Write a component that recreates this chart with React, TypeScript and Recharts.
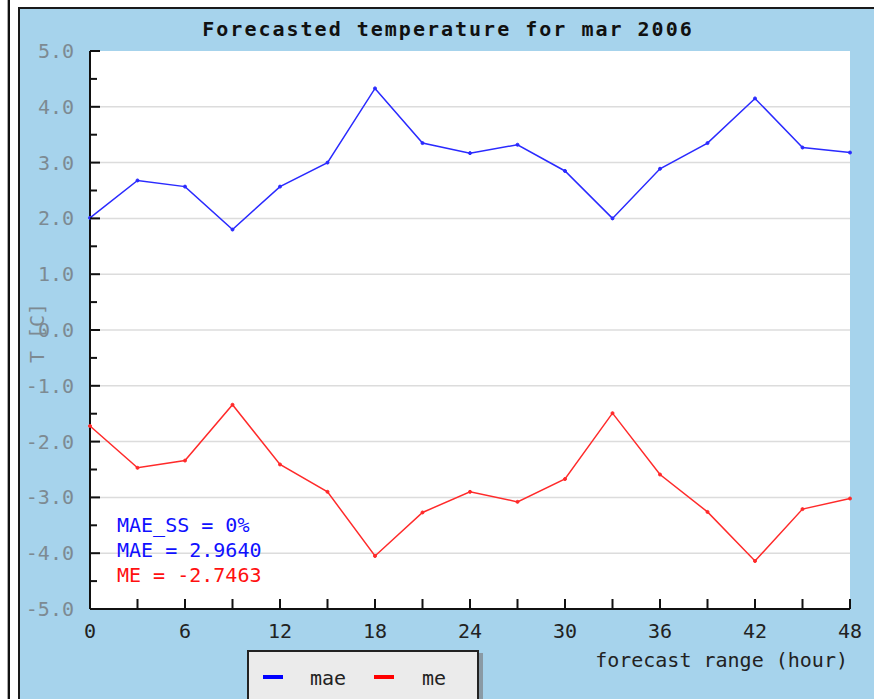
import { LineChart, Line, XAxis, YAxis, CartesianGrid } from 'recharts';

const hours = [0, 3, 6, 9, 12, 15, 18, 21, 24, 27, 30, 33, 36, 39, 42, 45, 48];
const maeValues = [2.01, 2.68, 2.57, 1.8, 2.57, 3.0, 4.33, 3.35, 3.17, 3.32, 2.85, 2.0, 2.89, 3.35, 4.15, 3.27, 3.18];
const meValues = [-1.72, -2.47, -2.34, -1.34, -2.41, -2.9, -4.05, -3.27, -2.9, -3.08, -2.67, -1.49, -2.59, -3.26, -4.14, -3.21, -3.02];

const yTicks = [-5, -4.5, -4, -3.5, -3, -2.5, -2, -1.5, -1, -0.5, 0, 0.5, 1, 1.5, 2, 2.5, 3, 3.5, 4, 4.5, 5];
const gridValues = [-4, -3, -2, -1, 0, 1, 2, 3, 4];
const labeledHours = [0, 6, 12, 18, 24, 30, 36, 42, 48];

const title = 'Forecasted temperature for mar 2006';
const xTitle = 'forecast range (hour)';
const yTitle = 'T [C]';
const stats = [
  { text: 'MAE_SS = 0%', color: '#1010ff' },
  { text: 'MAE = 2.9640', color: '#1010ff' },
  { text: 'ME = -2.7463', color: '#ff1010' },
];

const data = hours.map((h, i) => ({ hour: h, mae: maeValues[i], me: meValues[i] }));

const MONO = '"DejaVu Sans Mono", monospace';
const BLUE = '#2a2aff';
const RED = '#ff2a2a';

function YTick({ x, y, payload }: any) {
  const v = payload.value as number;
  const major = Number.isInteger(v);
  return (
    <g>
      <line x1={x} x2={x + (major ? 10 : 7)} y1={y} y2={y} stroke="#111" strokeWidth={2} />
      {major && (
        <text x={x - 16} y={y + 7} textAnchor="end" fill="#7d8a92" fontSize={20} fontFamily={MONO}>
          {v.toFixed(1)}
        </text>
      )}
    </g>
  );
}

function XTick({ x, y, payload }: any) {
  const v = payload.value as number;
  return (
    <g>
      <line x1={x} x2={x} y1={y} y2={y - 10} stroke="#111" strokeWidth={2} />
      {labeledHours.includes(v) && (
        <text x={x} y={y + 29} textAnchor="middle" fill="#222" fontSize={20} fontFamily={MONO}>
          {v}
        </text>
      )}
    </g>
  );
}

export default function App() {
  return (
    <div style={{ position: 'absolute', left: 0, top: 0, width: 874, height: 699, background: '#fff', overflow: 'hidden' }}>
      <div style={{ position: 'absolute', left: 7, top: 0, width: 1, height: 699, background: '#aaa' }} />
      <div style={{ position: 'absolute', left: 8, top: 0, width: 2, height: 699, background: '#111' }} />
      <div
        style={{
          position: 'absolute',
          left: 18,
          top: 7,
          width: 856,
          height: 692,
          boxSizing: 'border-box',
          borderLeft: '2px solid #1a1a1a',
          borderTop: '2px solid #1a1a1a',
          background: '#a6d3ec',
        }}
      />
      <div style={{ position: 'absolute', left: 0, top: 0 }}>
        <LineChart width={874} height={699} data={data} margin={{ top: 51, right: 24, bottom: 60, left: 18 }}>
          <CartesianGrid
            fill="#fff"
            vertical={false}
            horizontalValues={gridValues}
            stroke="#dcdcdc"
            strokeWidth={1.5}
          />
          <XAxis
            dataKey="hour"
            type="number"
            domain={[0, 48]}
            ticks={hours}
            interval={0}
            height={30}
            tickSize={0}
            tickMargin={0}
            tickLine={false}
            axisLine={{ stroke: '#111', strokeWidth: 2 }}
            tick={<XTick />}
          />
          <YAxis
            type="number"
            domain={[-5, 5]}
            ticks={yTicks}
            interval={0}
            width={72}
            tickSize={0}
            tickMargin={0}
            tickLine={false}
            axisLine={{ stroke: '#111', strokeWidth: 2 }}
            tick={<YTick />}
          />
          <Line
            type="linear"
            dataKey="mae"
            stroke={BLUE}
            strokeWidth={1.5}
            dot={{ r: 1.5, fill: BLUE, stroke: BLUE, strokeWidth: 1 }}
            isAnimationActive={false}
          />
          <Line
            type="linear"
            dataKey="me"
            stroke={RED}
            strokeWidth={1.5}
            dot={{ r: 1.5, fill: RED, stroke: RED, strokeWidth: 1 }}
            isAnimationActive={false}
          />
        </LineChart>
      </div>
      <svg width={874} height={699} style={{ position: 'absolute', left: 0, top: 0, pointerEvents: 'none' }}>
        <text x={448} y={36} textAnchor="middle" fontSize={20} fontWeight="bold" letterSpacing={2} fontFamily={MONO} fill="#111">
          {title}
        </text>
        <text transform="translate(44,333) rotate(-90)" textAnchor="middle" fontSize={20} fontFamily={MONO} fill="#7d8a92">
          {yTitle}
        </text>
        {stats.map((s, i) => (
          <text key={s.text} x={117} y={532 + i * 25} fontSize={20} fontFamily={MONO} fill={s.color}>
            {s.text}
          </text>
        ))}
        <text x={848} y={667} textAnchor="end" fontSize={20} fontFamily={MONO} fill="#222">
          {xTitle}
        </text>
        <rect x={479} y={653} width={4} height={50} fill="#8a9aa5" />
        <rect x={248} y={651} width={230} height={60} fill="#ebebeb" stroke="#222" strokeWidth={2} />
        <line x1={263} x2={283} y1={677} y2={677} stroke="#0000ff" strokeWidth={4} />
        <text x={310} y={685} fontSize={20} fontFamily={MONO} fill="#222">mae</text>
        <line x1={374} x2={394} y1={677} y2={677} stroke="#ff0000" strokeWidth={4} />
        <text x={422} y={685} fontSize={20} fontFamily={MONO} fill="#222">me</text>
      </svg>
    </div>
  );
}
